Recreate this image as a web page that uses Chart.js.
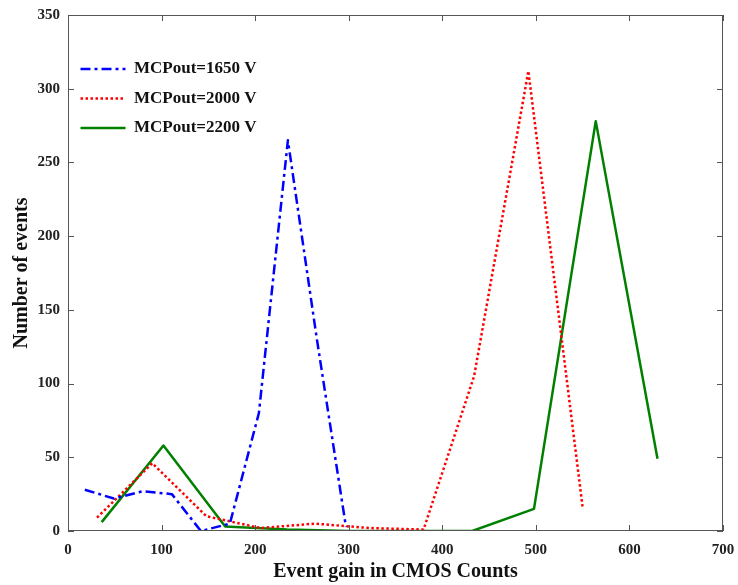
<!DOCTYPE html>
<html>
<head>
<meta charset="utf-8">
<script src="https://cdn.jsdelivr.net/npm/chart.js@4.4.1/dist/chart.umd.min.js"></script>
<style>
  html, body { margin: 0; padding: 0; background: #fff; }
  #wrap { width: 738px; height: 585px; }
</style>
</head>
<body>
<div id="wrap"><canvas id="gainChart"></canvas></div>
<script>
// values
const seriesNames = ["MCPout=1650 V", "MCPout=2000 V", "MCPout=2200 V"];

const gain1650 = [18, 49, 80, 111, 142, 173, 204, 235, 266, 297];
const events1650 = [28, 22, 27, 25, 0, 5, 80, 265, 130, 3];

const gain2000 = [31, 90, 148, 206, 264, 322, 380, 434, 492, 550];
const events2000 = [9, 46, 10, 2, 5, 2, 1, 105, 312, 16];

const gain2200 = [36, 102, 168, 234, 300, 366, 432, 498, 564, 630];
const events2200 = [6, 58, 3, 1, 0, 0, 0, 15, 278, 49];

const xTickValues = [0, 100, 200, 300, 400, 500, 600, 700];
const yTickValues = [0, 50, 100, 150, 200, 250, 300, 350];

const toPoints = (xs, ys) => xs.map((x, i) => ({ x: x, y: ys[i] }));

const serif = "'Liberation Serif', 'Times New Roman', serif";

// box round the plot with ticks pointing inwards, like matlab
const matlabAxes = {
    id: "matlabAxes",
    afterDatasetsDraw(chart) {
        const { ctx, chartArea: a, scales } = chart;
        const len = 6;
        ctx.save();
        ctx.strokeStyle = "#555";
        ctx.lineWidth = 1;
        ctx.strokeRect(a.left + 0.5, a.top + 0.5, a.right - a.left - 1, a.bottom - a.top - 1);
        ctx.beginPath();
        xTickValues.forEach((v) => {
            const px = Math.round(scales.x.getPixelForValue(v)) + 0.5;
            ctx.moveTo(px, a.bottom);
            ctx.lineTo(px, a.bottom - len);
            ctx.moveTo(px, a.top);
            ctx.lineTo(px, a.top + len);
        });
        yTickValues.forEach((v) => {
            const py = Math.round(scales.y.getPixelForValue(v)) + 0.5;
            ctx.moveTo(a.left, py);
            ctx.lineTo(a.left + len, py);
            ctx.moveTo(a.right, py);
            ctx.lineTo(a.right - len, py);
        });
        ctx.stroke();
        ctx.restore();
    },
};

const ctx = document.getElementById("gainChart").getContext("2d");
const gainChart = new Chart(ctx, {
    type: "scatter",
    data: {
        datasets: [
            {
                label: seriesNames[0],
                data: toPoints(gain1650, events1650),
                showLine: true,
                borderColor: "#0000ff",
                backgroundColor: "#0000ff",
                borderWidth: 2.5,
                borderDash: [10, 4, 3, 4],
                borderJoinStyle: "round",
                pointRadius: 0,
            },
            {
                label: seriesNames[1],
                data: toPoints(gain2000, events2000),
                showLine: true,
                borderColor: "#ff0000",
                backgroundColor: "#ff0000",
                borderWidth: 2.5,
                borderDash: [2.5, 2.5],
                borderJoinStyle: "round",
                pointRadius: 0,
            },
            {
                label: seriesNames[2],
                data: toPoints(gain2200, events2200),
                showLine: true,
                borderColor: "#008000",
                backgroundColor: "#008000",
                borderWidth: 2.5,
                borderDash: [],
                borderJoinStyle: "round",
                pointRadius: 0,
            },
        ],
    },
    options: {
        responsive: true,
        maintainAspectRatio: false,
        animation: false,
        layout: {
            padding: { top: 13, right: 8, bottom: 0, left: 8 },
        },
        plugins: {
            tooltip: { enabled: false },
            legend: {
                position: "chartArea",
                align: "start",
                title: {
                    display: true,
                    text: " ",
                    font: { size: 10, lineHeight: 1 },
                    padding: { top: 38, bottom: 0 },
                },
                labels: {
                    usePointStyle: true,
                    pointStyle: "line",
                    pointStyleWidth: 45,
                    padding: 12.5,
                    color: "#111",
                    font: { family: serif, size: 17, weight: "bold" },
                    // point style legend drops the dash pattern, put it back
                    generateLabels: (chart) => {
                        const items = Chart.defaults.plugins.legend.labels.generateLabels(chart);
                        items.forEach((item) => {
                            const ds = chart.data.datasets[item.datasetIndex];
                            item.lineDash = ds.borderDash;
                            item.lineWidth = ds.borderWidth;
                            item.strokeStyle = ds.borderColor;
                        });
                        return items;
                    },
                },
            },
        },
        scales: {
            x: {
                type: "linear",
                min: 0,
                max: 700,
                afterFit: (scale) => {
                    scale.height = 54;
                    scale.paddingRight = 15;
                },
                afterBuildTicks: (scale) => {
                    scale.ticks = xTickValues.map((v) => ({ value: v }));
                },
                grid: { display: false, drawTicks: false },
                border: { display: false },
                ticks: {
                    padding: 10,
                    color: "#222",
                    font: { family: serif, size: 15, weight: "bold" },
                },
                title: {
                    display: true,
                    text: "Event gain in CMOS Counts",
                    color: "#111",
                    padding: { top: 0, bottom: 1 },
                    font: { family: serif, size: 20, weight: "bold" },
                },
            },
            y: {
                type: "linear",
                min: 0,
                max: 350,
                afterFit: (scale) => {
                    scale.width = 60;
                    scale.paddingTop = 15;
                },
                afterBuildTicks: (scale) => {
                    scale.ticks = yTickValues.map((v) => ({ value: v }));
                },
                grid: { display: false, drawTicks: false },
                border: { display: false },
                ticks: {
                    padding: 8,
                    color: "#222",
                    font: { family: serif, size: 15, weight: "bold" },
                },
                title: {
                    display: true,
                    text: "Number of events",
                    color: "#111",
                    padding: { top: 2, bottom: 0 },
                    font: { family: serif, size: 20, weight: "bold" },
                },
            },
        },
    },
    plugins: [matlabAxes],
});
</script>
</body>
</html>
